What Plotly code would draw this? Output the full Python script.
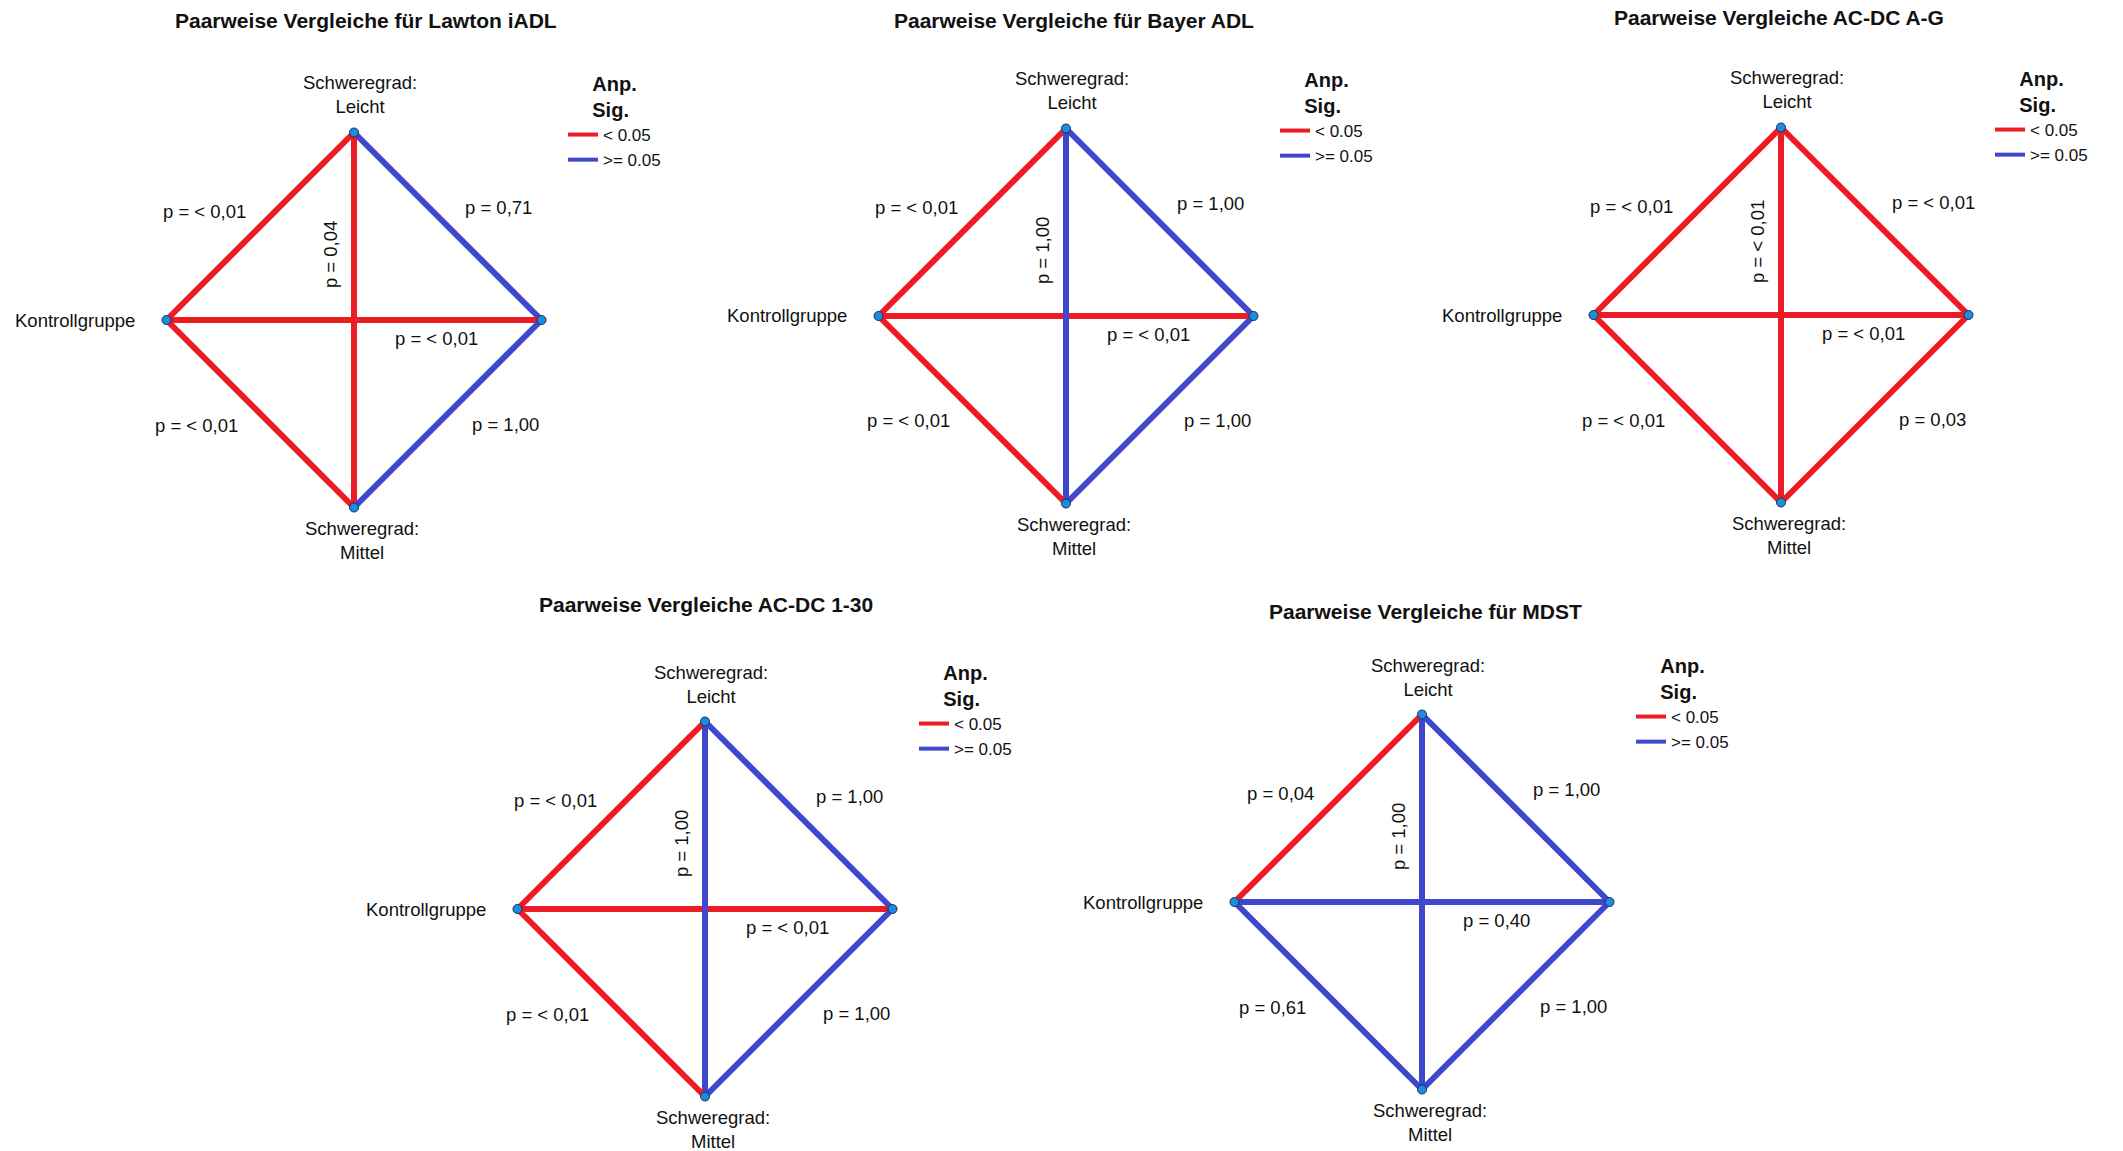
import plotly.graph_objects as go

# ---------------------------------------------------------------- data
TITLES = [
    "Paarweise Vergleiche für Lawton iADL",
    "Paarweise Vergleiche für Bayer ADL",
    "Paarweise Vergleiche AC-DC A-G",
    "Paarweise Vergleiche AC-DC 1-30",
    "Paarweise Vergleiche für MDST",
]

GROUPS = ["K", "L", "S", "M"]
GROUP_LABELS = {
    "K": "Kontrollgruppe",
    "L": "Schweregrad:<br>Leicht",
    "S": "Schweregrad:<br>Schwer",
    "M": "Schweregrad:<br>Mittel",
}

# pairwise comparisons (horizontal K-S drawn before vertical L-M)
PAIRS = [("K", "L"), ("L", "S"), ("K", "S"), ("L", "M"), ("K", "M"), ("S", "M")]

# adjusted p-values per comparison, in PAIRS order
P_LAWTON = ["< 0,01", "0,71", "< 0,01", "0,04", "< 0,01", "1,00"]
P_BAYER = ["< 0,01", "1,00", "< 0,01", "1,00", "< 0,01", "1,00"]
P_ACDC_AG = ["< 0,01", "< 0,01", "< 0,01", "< 0,01", "< 0,01", "0,03"]
P_ACDC_130 = ["< 0,01", "1,00", "< 0,01", "1,00", "< 0,01", "1,00"]
P_MDST = ["0,04", "1,00", "0,40", "1,00", "0,61", "1,00"]
P_VALUES = [P_LAWTON, P_BAYER, P_ACDC_AG, P_ACDC_130, P_MDST]

ALPHA = 0.05
LEGEND_LABELS = ["< 0.05", ">= 0.05"]

# ---------------------------------------------------------------- style / layout
W, H = 2123, 1151
R = 187.5                      # pixels per diamond unit
EXT = 1.2                      # axis half-range in diamond units
PANEL_CENTERS = [(354, 320), (1066, 316), (1781, 315), (705, 909), (1422, 902)]
TITLE_CENTERS = [(366, 21), (1074, 21), (1779, 18), (706, 604), (1425, 611)]

RED = "#ED1C24"
BLUE = "#3F48CC"
NODE_FILL = "#1E8BE0"
NODE_EDGE = "#15314F"
FONT = "Arial, Liberation Sans, sans-serif"

NODE_POS = {"K": (-1, 0), "L": (0, 1), "S": (1, 0), "M": (0, -1)}
NODE_LABEL_POS = {
    "L": (0.03, 1.20, "center"),
    "K": (-1.16, 0.0, "right"),
    "S": (1.41, 0.01, "center"),
    "M": (0.04, -1.175, "center"),
}
# x, y, xanchor, yanchor, textangle
P_LABEL_POS = {
    ("K", "L"): (-0.565, 0.58, "right", "middle", 0),
    ("L", "S"): (0.58, 0.60, "left", "middle", 0),
    ("K", "S"): (0.21, -0.10, "left", "middle", 0),
    ("L", "M"): (-0.125, 0.16, "center", "bottom", -90),
    ("K", "M"): (-0.61, -0.56, "right", "middle", 0),
    ("S", "M"): (0.62, -0.555, "left", "middle", 0),
}


def p_numeric(text):
    return float(text.replace("<", "").replace(",", ".").strip())


def is_significant(text):
    return p_numeric(text) < ALPHA


fig = go.Figure()
annotations = []
layout_axes = {}

for i, (title, pvals) in enumerate(zip(TITLES, P_VALUES)):
    n = i + 1
    sfx = "" if n == 1 else str(n)
    xref, yref = "x" + sfx, "y" + sfx
    legend_name = "legend" + sfx
    cx, cy = PANEL_CENTERS[i]

    layout_axes["xaxis" + sfx] = dict(
        domain=[(cx - EXT * R) / W, (cx + EXT * R) / W],
        range=[-EXT, EXT], visible=False, fixedrange=True,
        anchor=yref,
    )
    layout_axes["yaxis" + sfx] = dict(
        domain=[1 - (cy + EXT * R) / H, 1 - (cy - EXT * R) / H],
        range=[-EXT, EXT], visible=False, fixedrange=True,
        anchor=xref,
    )

    # edges
    for (a, b), p in zip(PAIRS, pvals):
        xa, ya = NODE_POS[a]
        xb, yb = NODE_POS[b]
        color = RED if is_significant(p) else BLUE
        fig.add_trace(go.Scatter(
            x=[xa, xb], y=[ya, yb], mode="lines",
            line=dict(color=color, width=6),
            xaxis=xref, yaxis=yref, showlegend=False, hoverinfo="skip",
        ))
        lx, ly, xa_, ya_, ang = P_LABEL_POS[(a, b)]
        annotations.append(dict(
            x=lx, y=ly, xref=xref, yref=yref, text="p = " + p,
            showarrow=False, xanchor=xa_, yanchor=ya_, textangle=ang,
            font=dict(family=FONT, size=18.5, color="#111111"),
        ))

    # nodes
    fig.add_trace(go.Scatter(
        x=[NODE_POS[g][0] for g in GROUPS], y=[NODE_POS[g][1] for g in GROUPS],
        mode="markers",
        marker=dict(size=9, color=NODE_FILL, line=dict(color=NODE_EDGE, width=1)),
        xaxis=xref, yaxis=yref, showlegend=False, hoverinfo="skip",
        cliponaxis=False,
    ))
    for g in GROUPS:
        gx, gy, anchor = NODE_LABEL_POS[g]
        annotations.append(dict(
            x=gx, y=gy, xref=xref, yref=yref, text=GROUP_LABELS[g],
            showarrow=False, xanchor=anchor, yanchor="middle", align="center",
            font=dict(family=FONT, size=18.5, color="#111111"),
        ))

    # legend entries
    for label, color in zip(LEGEND_LABELS, [RED, BLUE]):
        fig.add_trace(go.Scatter(
            x=[None], y=[None], mode="lines", name=label,
            line=dict(color=color, width=4),
            xaxis=xref, yaxis=yref, legend=legend_name, showlegend=True,
        ))
    layout_axes[legend_name] = dict(
        x=(cx + 209) / W, y=1 - (cy - 255) / H,
        xanchor="left", yanchor="top",
        bgcolor="rgba(0,0,0,0)", borderwidth=0,
        font=dict(family=FONT, size=17, color="#111111"),
        title=dict(text="<b>Anp.<br>Sig.</b>", side="top center",
                   font=dict(family=FONT, size=20, color="#111111")),
        tracegroupgap=0, itemclick=False, itemdoubleclick=False,
    )

    tx, ty = TITLE_CENTERS[i]
    annotations.append(dict(
        x=tx / W, y=1 - ty / H, xref="paper", yref="paper",
        text="<b>" + title + "</b>", showarrow=False,
        xanchor="center", yanchor="middle",
        font=dict(family=FONT, size=21, color="#111111"),
    ))

fig.update_layout(
    width=W, height=H,
    margin=dict(l=0, r=0, t=0, b=0),
    paper_bgcolor="white", plot_bgcolor="white",
    template="none",
    annotations=annotations,
    **layout_axes,
)

fig.write_html("out.html", config={"displayModeBar": False})
